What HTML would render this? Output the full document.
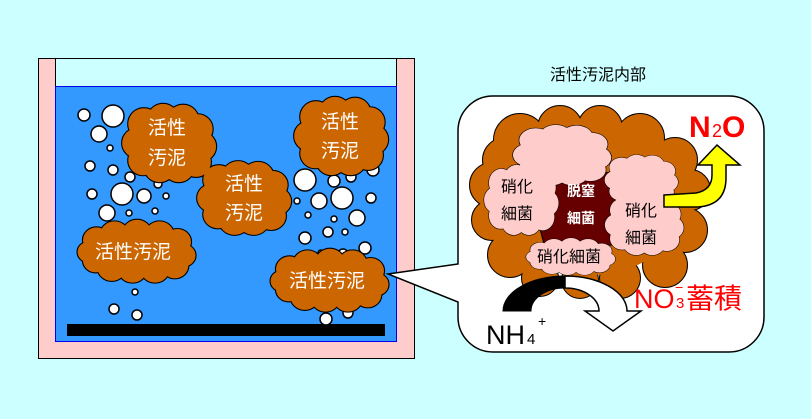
<!DOCTYPE html>
<html><head><meta charset="utf-8"><style>
html,body{margin:0;padding:0;background:#ccffff;}
svg{display:block;}
text{font-family:"Liberation Sans","Noto Sans CJK JP",sans-serif;}
</style></head><body>
<svg width="811" height="419" viewBox="0 0 811 419" xmlns="http://www.w3.org/2000/svg">
<defs>
<g id="cl">
  <circle cx="-30" cy="-22" r="18"/><circle cx="-8" cy="-27" r="18"/><circle cx="15" cy="-26" r="18"/><circle cx="32" cy="-16" r="17"/>
  <circle cx="36" cy="4" r="17"/><circle cx="30" cy="22" r="17"/><circle cx="10" cy="27" r="18"/><circle cx="-12" cy="27" r="18"/>
  <circle cx="-31" cy="20" r="17"/><circle cx="-38" cy="0" r="17"/><circle cx="0" cy="0" r="30"/>
</g>
<g id="cw">
  <circle cx="-45" cy="-14" r="15"/><circle cx="-25" cy="-20" r="16"/><circle cx="0" cy="-22" r="16"/><circle cx="25" cy="-20" r="16"/><circle cx="45" cy="-12" r="15"/>
  <circle cx="52" cy="4" r="13"/><circle cx="42" cy="16" r="15"/><circle cx="20" cy="20" r="16"/><circle cx="-5" cy="20" r="16"/><circle cx="-28" cy="18" r="16"/>
  <circle cx="-46" cy="10" r="14"/><circle cx="-54" cy="0" r="12"/><ellipse cx="0" cy="0" rx="48" ry="20"/>
</g>
</defs>
<rect x="0" y="0" width="811" height="419" fill="#ccffff"/>
<rect x="38.5" y="58.5" width="376" height="300" fill="#ffcccc" stroke="#000"/>
<rect x="55.5" y="58.5" width="341" height="283" fill="#ccffff" stroke="#000"/>
<rect x="55.5" y="86.5" width="341" height="255" fill="#3399ff" stroke="#0000ee"/>
<rect x="67" y="324" width="318" height="12" fill="#000"/>
<g fill="#fff" stroke="#000" stroke-width="1.5">
<circle cx="84" cy="115" r="6"/><circle cx="113" cy="116" r="11"/><circle cx="99" cy="134" r="8"/><circle cx="110" cy="148" r="3"/>
<circle cx="90" cy="166" r="5"/><circle cx="113" cy="170" r="5"/><circle cx="130" cy="177" r="5"/><circle cx="122" cy="194" r="11"/>
<circle cx="92" cy="194" r="5"/><circle cx="144" cy="196" r="7"/><circle cx="166" cy="196" r="3"/><circle cx="107" cy="213" r="8"/>
<circle cx="129" cy="213" r="3"/><circle cx="155" cy="211" r="3"/><circle cx="158" cy="140" r="9"/><circle cx="158" cy="184" r="4"/>
<circle cx="135" cy="292" r="3"/><circle cx="114" cy="309" r="5"/><circle cx="137" cy="315" r="5"/>
<circle cx="305" cy="180" r="11"/><circle cx="334" cy="181" r="6"/><circle cx="351" cy="177" r="5"/><circle cx="373" cy="170" r="6"/>
<circle cx="319" cy="201" r="8"/><circle cx="342" cy="198" r="11"/><circle cx="371" cy="198" r="5"/><circle cx="297" cy="201" r="3"/>
<circle cx="357" cy="218" r="8"/><circle cx="308" cy="215" r="3"/><circle cx="334" cy="219" r="3"/><circle cx="305" cy="238" r="6"/>
<circle cx="328" cy="232" r="5"/><circle cx="345" cy="232" r="3"/><circle cx="365" cy="248" r="6"/><circle cx="343" cy="254" r="5"/>
<circle cx="326" cy="319" r="6"/><circle cx="348" cy="313" r="5"/><circle cx="321" cy="253" r="3"/>
</g>
<g fill="#cc6600" stroke="#000" stroke-width="2.5">
<use href="#cl" transform="translate(170,143) scale(0.87,0.87)"/>
<use href="#cl" transform="translate(245,198) scale(0.87,0.82)"/>
<use href="#cl" transform="translate(342,136) scale(0.87,0.87)"/>
<use href="#cw" transform="translate(137,252) scale(0.9,0.85)"/>
<use href="#cw" transform="translate(330,281) scale(0.9,0.85)"/>
</g>
<g fill="#cc6600">
<use href="#cl" transform="translate(170,143) scale(0.87,0.87)"/>
<use href="#cl" transform="translate(245,198) scale(0.87,0.82)"/>
<use href="#cl" transform="translate(342,136) scale(0.87,0.87)"/>
<use href="#cw" transform="translate(137,252) scale(0.9,0.85)"/>
<use href="#cw" transform="translate(330,281) scale(0.9,0.85)"/>
</g>
<g fill="#fff" font-size="19" text-anchor="middle">
<text x="167" y="134">活性</text><text x="167" y="164">汚泥</text>
<text x="244" y="190">活性</text><text x="244" y="219">汚泥</text>
<text x="340" y="128">活性</text><text x="340" y="157">汚泥</text>
<text x="133" y="258">活性汚泥</text>
<text x="327" y="287">活性汚泥</text>
</g>
<path d="M493,96 H729 A35,35 0 0 1 764,131 V317 A35,35 0 0 1 729,352 H493 A35,35 0 0 1 458,317 V302 L388,274 L458,264 V131 A35,35 0 0 1 493,96 Z" fill="#fff" stroke="#000" stroke-width="1.5"/>
<text x="598" y="80" font-size="16" text-anchor="middle" fill="#000">活性汚泥内部</text>
<g fill="#cc6600" stroke="#000" stroke-width="2">
<circle cx="520" cy="140" r="26"/><circle cx="560" cy="128" r="22"/><circle cx="600" cy="128" r="22"/><circle cx="640" cy="138" r="24"/>
<circle cx="675" cy="160" r="22"/><circle cx="690" cy="190" r="20"/><circle cx="685" cy="230" r="22"/><circle cx="665" cy="265" r="22"/>
<circle cx="620" cy="278" r="20"/><circle cx="580" cy="280" r="18"/><circle cx="540" cy="278" r="18"/><circle cx="510" cy="255" r="22"/>
<circle cx="492" cy="220" r="20"/><circle cx="492" cy="185" r="22"/><circle cx="505" cy="160" r="22"/>
</g>
<g fill="#cc6600">
<circle cx="520" cy="140" r="26"/><circle cx="560" cy="128" r="22"/><circle cx="600" cy="128" r="22"/><circle cx="640" cy="138" r="24"/>
<circle cx="675" cy="160" r="22"/><circle cx="690" cy="190" r="20"/><circle cx="685" cy="230" r="22"/><circle cx="665" cy="265" r="22"/>
<circle cx="620" cy="278" r="20"/><circle cx="580" cy="280" r="18"/><circle cx="540" cy="278" r="18"/><circle cx="510" cy="255" r="22"/>
<circle cx="492" cy="220" r="20"/><circle cx="492" cy="185" r="22"/><circle cx="505" cy="160" r="22"/>
<ellipse cx="590" cy="200" rx="95" ry="75"/>
</g>
<path d="M540,175 L620,172 L625,210 L612,245 L545,248 L535,210 Z" fill="#660000" stroke="#000"/>
<g fill="#ffcccc" stroke="#000" stroke-width="1.5">
<use href="#cl" transform="translate(563,155) scale(0.91,0.67)"/>
<use href="#cl" transform="translate(642,180) scale(0.68,0.56)"/>
<use href="#cl" transform="translate(522,200) scale(0.69,0.78)"/>
<use href="#cl" transform="translate(645,225) scale(0.73,0.67)"/>
<use href="#cw" transform="translate(571,257) scale(0.68,0.5)"/>
</g>
<g fill="#ffcccc">
<use href="#cl" transform="translate(563,155) scale(0.91,0.67)"/>
<use href="#cl" transform="translate(642,180) scale(0.68,0.56)"/>
<use href="#cl" transform="translate(522,200) scale(0.69,0.78)"/>
<use href="#cl" transform="translate(645,225) scale(0.73,0.67)"/>
<use href="#cw" transform="translate(571,257) scale(0.68,0.5)"/>
</g>
<g font-size="16" text-anchor="middle" fill="#000">
<text x="517" y="192">硝化</text><text x="517" y="219">細菌</text>
<text x="641" y="216">硝化</text><text x="641" y="243">細菌</text>
<text x="569" y="262">硝化細菌</text>
</g>
<g font-size="14" font-weight="bold" text-anchor="middle" fill="#fff">
<text x="581" y="196">脱窒</text><text x="581" y="223">細菌</text>
</g>
<path d="M664,195 L696,193 Q712,190 712,175 L712,165 L698,165 L717,145 L740,165 L726,165 L726,178 Q726,205 698,207 L664,207 Z" fill="#ffff00" stroke="#000" stroke-width="1.5"/>
<text x="689" y="137" font-size="30" font-weight="bold" fill="#ff0000">N</text>
<text x="712" y="137" font-size="18" fill="#ff0000">2</text>
<text x="722" y="137" font-size="30" font-weight="bold" fill="#ff0000">O</text>
<path d="M565,276 A62,35 0 0 1 627,311 L641,311 L613,331 L585,311 L599,311 A34,23 0 0 0 565,288 Z" fill="#fff" stroke="#000" stroke-width="1.5"/>
<path d="M565,276 A62,35 0 0 0 503,311 L531,311 A34,23 0 0 1 565,288 Z" fill="#000" stroke="#000" stroke-width="1"/>
<text x="486" y="344" font-size="27" fill="#000">NH</text>
<text x="527" y="344" font-size="15" fill="#000">4</text>
<text x="538" y="326" font-size="14" fill="#000">+</text>
<text x="634" y="308" font-size="27" fill="#ff0000">NO</text>
<text x="676" y="308" font-size="15" fill="#ff0000">3</text>
<text x="675" y="292" font-size="14" fill="#ff0000">−</text>
<text x="686" y="308" font-size="28" fill="#ff0000" font-family="'Noto Sans CJK JP',sans-serif">蓄積</text>
</svg>
</body></html>
